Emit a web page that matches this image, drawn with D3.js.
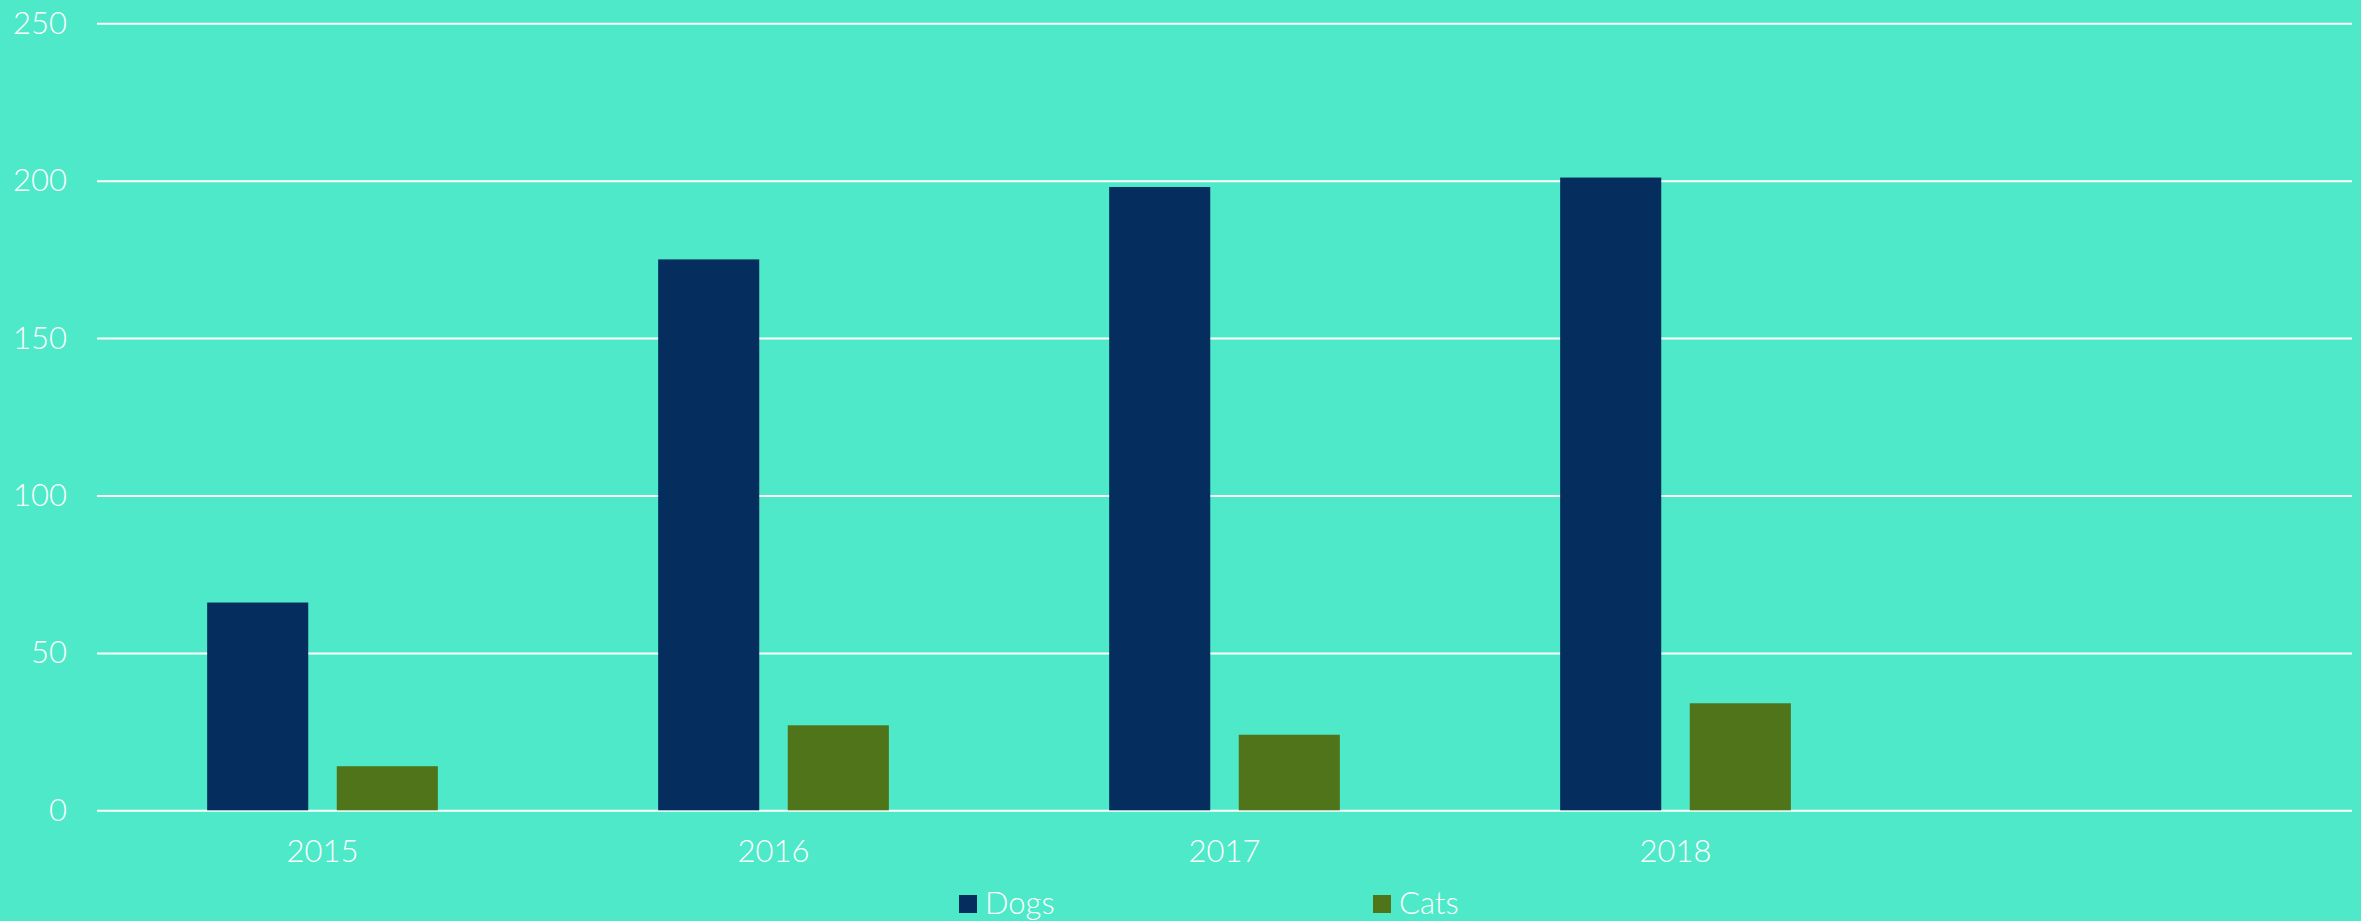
<!DOCTYPE html>
<html>
<head>
<meta charset="utf-8">
<script src="https://cdn.jsdelivr.net/npm/d3@7"></script>
<style>
  html, body { margin: 0; padding: 0; background: #4ee9c9; overflow: hidden; }
  text { font-family: "Lato", "Open Sans", sans-serif; font-weight: 300; fill: #ffffff; }
</style>
</head>
<body>
<div id="chart"></div>
<script>
// data
const categories = ["2015", "2016", "2017", "2018", ""];
const dogs = [66, 175, 198, 201, null];
const cats = [14, 27, 24, 34, null];
const seriesNames = ["Dogs", "Cats"];
const yTicks = [0, 50, 100, 150, 200, 250];

const W = 2361, H = 921;
const colors = { Dogs: "#052e5f", Cats: "#50741a" };

const svg = d3.select("#chart").append("svg")
    .attr("width", W)
    .attr("height", H);

svg.append("rect").attr("width", W).attr("height", H).attr("fill", "#4ee9c9");

// scales
const x = d3.scaleBand().domain(categories).range([97, 2352]);
const x1 = d3.scaleBand().domain(seriesNames).range([0, x.bandwidth()])
    .paddingInner(0.22).paddingOuter(0.85);
const y = d3.scaleLinear().domain([0, 250]).range([810.3, 23.3]);

// y axis + gridlines
const yAxis = svg.append("g")
    .attr("transform", "translate(97,0)")
    .call(d3.axisLeft(y).tickValues(yTicks).tickSize(-(2352 - 97)).tickPadding(30));
yAxis.select(".domain").remove();
yAxis.selectAll(".tick line").attr("stroke", "#ffffff").attr("stroke-width", 2);
yAxis.selectAll(".tick text")
    .attr("font-size", 31).attr("font-family", null).attr("fill", "#ffffff");

// bars
const rows = categories.map((c, i) => ({ cat: c, Dogs: dogs[i], Cats: cats[i] }));
const groups = svg.selectAll("g.grp")
    .data(rows)
    .enter().append("g")
    .attr("class", "grp")
    .attr("transform", d => `translate(${x(d.cat)},0)`);

groups.selectAll("rect")
    .data(d => seriesNames.filter(s => d[s] != null).map(s => ({ key: s, value: d[s] })))
    .enter().append("rect")
    .attr("x", d => x1(d.key))
    .attr("width", x1.bandwidth())
    .attr("y", d => y(d.value))
    .attr("height", d => y(0) - y(d.value))
    .attr("fill", d => colors[d.key]);

// x axis labels
const xAxis = svg.append("g")
    .attr("transform", `translate(0,${y(0)})`)
    .call(d3.axisBottom(x).tickSize(0));
xAxis.select(".domain").remove();
xAxis.selectAll(".tick text")
    .attr("y", 52).attr("dy", 0)
    .attr("font-size", 31).attr("font-family", null).attr("fill", "#ffffff");

// legend
const legendX = { Dogs: 959, Cats: 1373 };
const legend = svg.selectAll("g.legend")
    .data(seriesNames)
    .enter().append("g")
    .attr("class", "legend")
    .attr("transform", d => `translate(${legendX[d]},0)`);
legend.append("rect")
    .attr("y", 895).attr("width", 18).attr("height", 18)
    .attr("fill", d => colors[d]);
legend.append("text")
    .attr("x", 26).attr("y", 914)
    .attr("font-size", 31)
    .text(d => d);
</script>
</body>
</html>
